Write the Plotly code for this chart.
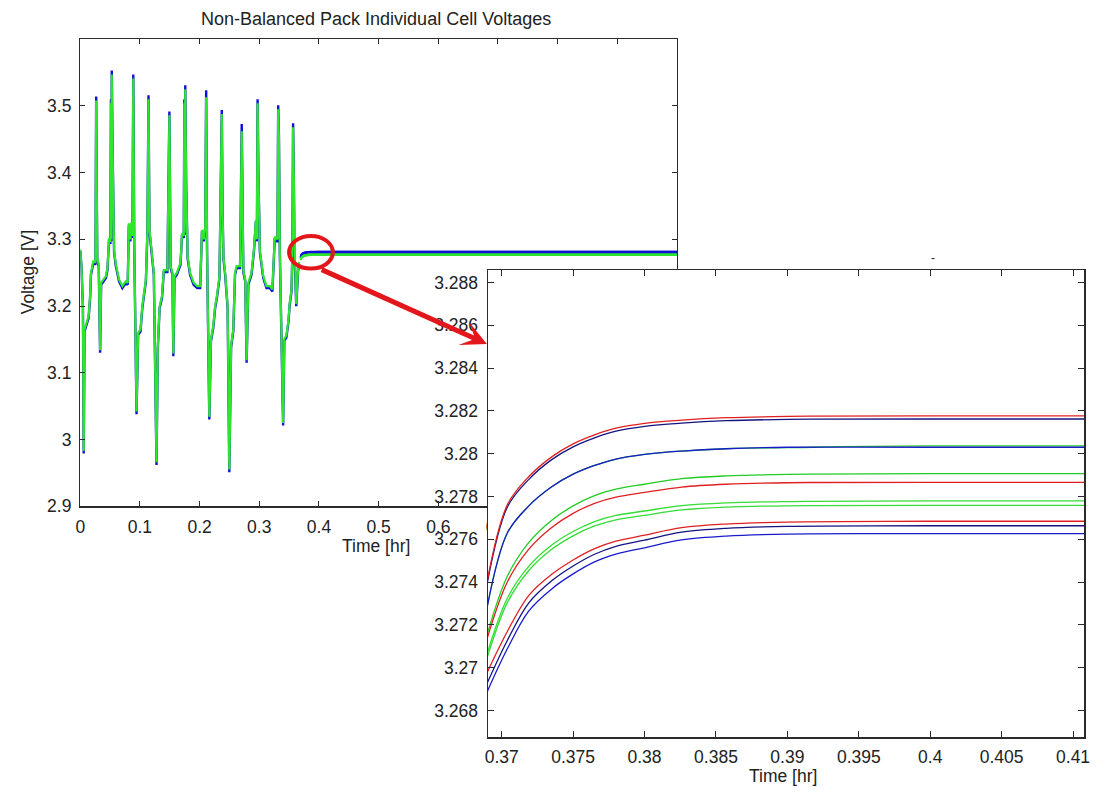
import plotly.graph_objects as go

# ---------------- data ----------------
# drive-cycle part of the pack (hours, volts)
t_drive = [0.000, 0.002, 0.0045, 0.0058, 0.0072, 0.010, 0.014, 0.0165, 0.018, 0.022,
           0.0255, 0.0267, 0.0275, 0.0285, 0.031, 0.0333, 0.035, 0.039, 0.043, 0.0456,
           0.0483, 0.0505, 0.0515, 0.052, 0.0528, 0.054, 0.0567, 0.0594, 0.065, 0.0706,
           0.076, 0.0795, 0.0815, 0.084, 0.0855, 0.0875, 0.0889, 0.0905, 0.0943, 0.097,
           0.101, 0.104, 0.107, 0.110, 0.1125, 0.1144, 0.116, 0.119, 0.1233, 0.1278,
           0.130, 0.133, 0.137, 0.140, 0.146, 0.1494, 0.1505, 0.1515, 0.1545, 0.156,
           0.158, 0.162, 0.168, 0.1706, 0.1735, 0.1745, 0.175, 0.176, 0.1775, 0.180,
           0.184, 0.190, 0.196, 0.201, 0.204, 0.207, 0.2094, 0.211, 0.2125, 0.2163,
           0.219, 0.223, 0.226, 0.229, 0.2333, 0.2372, 0.2385, 0.240, 0.2428, 0.247,
           0.2498, 0.2528, 0.2565, 0.2594, 0.262, 0.2678, 0.2706, 0.272, 0.2733, 0.2765,
           0.2788, 0.2817, 0.287, 0.291, 0.2944, 0.296, 0.2972, 0.2985, 0.301, 0.3067,
           0.312, 0.3178, 0.322, 0.326, 0.329, 0.3305, 0.3317, 0.333, 0.3345, 0.340,
           0.342, 0.3455, 0.349, 0.351, 0.354, 0.3555, 0.3567, 0.3575, 0.359, 0.360,
           0.362, 0.365, 0.367]

v_green = [3.285, 3.262, 3.200, 2.983, 3.165, 3.175, 3.185, 3.215, 3.250, 3.268,
           3.265, 3.508, 3.400, 3.272, 3.262, 3.134, 3.235, 3.240, 3.245, 3.257,
           3.302, 3.296, 3.504, 3.300, 3.547, 3.447, 3.284, 3.264, 3.240, 3.230,
           3.237, 3.235, 3.324, 3.300, 3.325, 3.305, 3.541, 3.294, 3.042, 3.160,
           3.165, 3.200, 3.225, 3.240, 3.310, 3.510, 3.315, 3.284, 3.250, 2.966,
           3.140, 3.200, 3.215, 3.254, 3.254, 3.486, 3.375, 3.260, 3.250, 3.129,
           3.245, 3.250, 3.265, 3.309, 3.305, 3.504, 3.310, 3.525, 3.380, 3.274,
           3.250, 3.235, 3.230, 3.230, 3.314, 3.300, 3.319, 3.513, 3.284, 3.034,
           3.150, 3.171, 3.200, 3.215, 3.245, 3.488, 3.340, 3.274, 3.250, 3.200,
           2.955, 3.141, 3.166, 3.250, 3.260, 3.260, 3.462, 3.300, 3.254, 3.240,
           3.119, 3.235, 3.250, 3.284, 3.329, 3.300, 3.504, 3.400, 3.284, 3.245,
           3.230, 3.230, 3.225, 3.304, 3.300, 3.300, 3.495, 3.450, 3.280, 3.025,
           3.151, 3.156, 3.180, 3.205, 3.225, 3.280, 3.468, 3.420, 3.284, 3.265,
           3.203, 3.255, 3.266]

v_blue = [3.283, 3.260, 3.197, 2.979, 3.162, 3.172, 3.182, 3.212, 3.247, 3.265,
          3.262, 3.514, 3.404, 3.270, 3.259, 3.130, 3.232, 3.237, 3.242, 3.254,
          3.300, 3.293, 3.510, 3.297, 3.553, 3.452, 3.281, 3.261, 3.237, 3.227,
          3.234, 3.232, 3.322, 3.297, 3.323, 3.302, 3.547, 3.291, 3.038, 3.157,
          3.162, 3.197, 3.222, 3.237, 3.308, 3.516, 3.312, 3.281, 3.247, 2.962,
          3.137, 3.197, 3.212, 3.251, 3.251, 3.4915, 3.379, 3.257, 3.247, 3.125,
          3.242, 3.247, 3.262, 3.307, 3.302, 3.510, 3.307, 3.531, 3.384, 3.271,
          3.247, 3.232, 3.227, 3.227, 3.312, 3.297, 3.317, 3.5235, 3.281, 3.030,
          3.147, 3.168, 3.197, 3.212, 3.242, 3.494, 3.344, 3.271, 3.247, 3.197,
          2.951, 3.138, 3.163, 3.247, 3.257, 3.257, 3.473, 3.297, 3.251, 3.237,
          3.115, 3.232, 3.247, 3.281, 3.327, 3.297, 3.510, 3.404, 3.281, 3.242,
          3.227, 3.227, 3.222, 3.302, 3.297, 3.297, 3.501, 3.454, 3.277, 3.021,
          3.148, 3.153, 3.177, 3.202, 3.222, 3.277, 3.474, 3.424, 3.281, 3.262,
          3.200, 3.252, 3.263]

# rest (relaxation) part, individual cells
t_rest = [0.369, 0.3704, 0.3719, 0.3735, 0.375, 0.3765, 0.378, 0.38, 0.3826, 0.3857, 0.39, 0.4, 1.0]

cell_names = ["c2", "c1", "c4", "c3", "c5", "c6", "c7", "c8", "c9", "c10", "c11"]
cell_inset_colors = ["#141480", "#e02020", "#22cc22", "#1a1acc", "#22cc22", "#e02020",
                     "#33dd33", "#33dd33", "#e02020", "#141480", "#1a1acc"]
cell_main_colors = ["#1010d8", "#1010d8", "#1010d8", "#1010d8", "#1010d8", "#1010d8",
                    "#2ee62e", "#2ee62e", "#2ee62e", "#2ee62e", "#2ee62e"]
cell_values = [
    [3.27400, 3.27751, 3.27880, 3.27972, 3.28032, 3.28074, 3.28105, 3.28128, 3.28143, 3.28154, 3.28160, 3.28162, 3.28162],
    [3.27410, 3.27762, 3.27893, 3.27985, 3.28046, 3.28088, 3.28119, 3.28142, 3.28157, 3.28168, 3.28174, 3.28177, 3.28180],
    [3.27290, 3.27630, 3.27756, 3.27845, 3.27904, 3.27945, 3.27975, 3.27997, 3.28012, 3.28023, 3.28028, 3.28036, 3.28036],
    [3.27290, 3.27630, 3.27756, 3.27845, 3.27904, 3.27945, 3.27975, 3.27997, 3.28012, 3.28023, 3.28030, 3.28030, 3.28030],
    [3.27160, 3.27428, 3.27585, 3.27689, 3.27756, 3.27804, 3.27834, 3.27857, 3.27883, 3.27896, 3.27903, 3.27907, 3.27908],
    [3.27140, 3.27401, 3.27554, 3.27655, 3.27721, 3.27768, 3.27797, 3.27819, 3.27844, 3.27857, 3.27864, 3.27866, 3.27866],
    [3.27070, 3.27325, 3.27474, 3.27573, 3.27636, 3.27682, 3.27711, 3.27732, 3.27757, 3.27770, 3.27776, 3.27779, 3.27780],
    [3.27050, 3.27305, 3.27454, 3.27553, 3.27616, 3.27662, 3.27691, 3.27712, 3.27737, 3.27750, 3.27756, 3.27758, 3.27758],
    [3.26980, 3.27170, 3.27338, 3.27436, 3.27503, 3.27556, 3.27591, 3.27619, 3.27654, 3.27671, 3.27680, 3.27684, 3.27690],
    [3.26930, 3.27128, 3.27303, 3.27406, 3.27475, 3.27530, 3.27567, 3.27596, 3.27633, 3.27651, 3.27660, 3.27663, 3.27664],
    [3.26890, 3.27089, 3.27265, 3.27368, 3.27438, 3.27494, 3.27530, 3.27560, 3.27597, 3.27615, 3.27624, 3.27626, 3.27626],
]

main_xticks = [0, 0.1, 0.2, 0.3, 0.4, 0.5, 0.6, 0.7, 0.8, 0.9, 1.0]
main_xtext = ["0", "0.1", "0.2", "0.3", "0.4", "0.5", "0.6", "0.7", "0.8", "0.9", "1"]
main_yticks = [2.9, 3.0, 3.1, 3.2, 3.3, 3.4, 3.5]
main_ytext = ["2.9", "3", "3.1", "3.2", "3.3", "3.4", "3.5"]
inset_xticks = [0.37, 0.375, 0.38, 0.385, 0.39, 0.395, 0.4, 0.405, 0.41]
inset_xtext = ["0.37", "0.375", "0.38", "0.385", "0.39", "0.395", "0.4", "0.405", "0.41"]
inset_yticks = [3.268, 3.27, 3.272, 3.274, 3.276, 3.278, 3.28, 3.282, 3.284, 3.286, 3.288]
inset_ytext = ["3.268", "3.27", "3.272", "3.274", "3.276", "3.278", "3.28", "3.282", "3.284", "3.286", "3.288"]

# ---------------- figure ----------------
W, H = 1111, 799
FONT = "Liberation Sans, Arial, sans-serif"
TXT = "#222222"
FS = 17.5

fig = go.Figure()

# main plot
fig.add_trace(go.Scatter(x=t_drive, y=v_blue, mode="lines", xaxis="x", yaxis="y",
                         line=dict(color="#1010d8", width=2.4), hoverinfo="skip"))
fig.add_trace(go.Scatter(x=t_drive, y=v_green, mode="lines", xaxis="x", yaxis="y",
                         line=dict(color="#2ee62e", width=2.2), hoverinfo="skip"))
for name, vals, col in zip(cell_names, cell_values, cell_main_colors):
    fig.add_trace(go.Scatter(x=t_rest, y=vals, mode="lines", xaxis="x", yaxis="y",
                             line=dict(color=col, width=1.5, shape="spline"),
                             name=name, hoverinfo="skip"))

# inset (zoom)
for name, vals, col in zip(cell_names, cell_values, cell_inset_colors):
    fig.add_trace(go.Scatter(x=t_rest, y=vals, mode="lines", xaxis="x2", yaxis="y2",
                             line=dict(color=col, width=1.3, shape="spline", smoothing=1.0),
                             name=name, hoverinfo="skip"))

def px_x(p):
    return p / W

def px_y(p):
    return 1 - p / H

axis_common = dict(showline=True, linecolor="#2b2b2b", linewidth=1.3, mirror="ticks",
                   ticks="inside", tickcolor="#2b2b2b", tickwidth=1, showgrid=False,
                   zeroline=False, tickfont=dict(family=FONT, size=FS, color=TXT),
                   tickmode="array")

fig.update_layout(
    width=W, height=H, autosize=False,
    margin=dict(l=0, r=0, t=0, b=0, pad=0),
    paper_bgcolor="white", plot_bgcolor="white",
    showlegend=False,
    xaxis=dict(domain=[px_x(76), px_x(678.7)], range=[0, 1.0], anchor="y",
               tickvals=main_xticks, ticktext=main_xtext, ticklen=5,
               ticklabelstandoff=4, **axis_common),
    yaxis=dict(domain=[px_y(512.7), px_y(40)], range=[2.9, 3.5995], anchor="x",
               tickvals=main_yticks, ticktext=main_ytext, ticklen=5,
               ticklabelstandoff=4, **axis_common),
    xaxis2=dict(domain=[px_x(487.7), px_x(1090)], range=[0.36903, 0.41078], anchor="y2",
                tickvals=inset_xticks, ticktext=inset_xtext, ticklen=6,
                ticklabelstandoff=3, **axis_common),
    yaxis2=dict(domain=[px_y(746.7), px_y(273.3)], range=[3.26674, 3.28859], anchor="x2",
                tickvals=inset_yticks, ticktext=inset_ytext, ticklen=6,
                ticklabelstandoff=5, **axis_common),
)

def label(text, x, y, angle=0, size=FS):
    fig.add_annotation(text=text, x=px_x(x), y=px_y(y), xref="paper", yref="paper",
                       showarrow=False, textangle=angle, xanchor="center", yanchor="middle",
                       font=dict(family=FONT, size=size, color=TXT))

label("Non-Balanced Pack Individual Cell Voltages", 375, 19, size=18)
label("Voltage [V]", 23, 275, angle=-90)
label("Time [hr]", 375, 553)
label("Time [hr]", 786, 786)
label("-", 937, 261, size=12)

# red circle around the transition and arrow to the zoom
fig.add_shape(type="circle", xref="x", yref="y", x0=0.35, x1=0.4233, y0=3.2562, y1=3.3051,
              line=dict(color="#e3161b", width=4), layer="above")
fig.add_annotation(x=px_x(486.7), y=px_y(348.3), xref="paper", yref="paper",
                   ax=-166.7, ay=-75, text="", showarrow=True, arrowhead=3,
                   arrowsize=0.85, arrowwidth=5, arrowcolor="#e3161b",
                   standoff=0, startstandoff=0)

post = (
    "var d=document.documentElement,b=document.body;"
    "d.style.margin='0';d.style.padding='0';d.style.overflow='hidden';d.style.height='799px';"
    "b.style.margin='0';b.style.padding='0';b.style.overflow='hidden';b.style.height='799px';"
    "var gd=document.getElementById('{plot_id}');"
    "if(gd&&gd.parentElement){gd.parentElement.style.height='799px';"
    "gd.parentElement.style.overflow='hidden';gd.parentElement.style.lineHeight='0';}"
)

fig.write_html("out.html", config={"displayModeBar": False, "staticPlot": True},
               post_script=post)
